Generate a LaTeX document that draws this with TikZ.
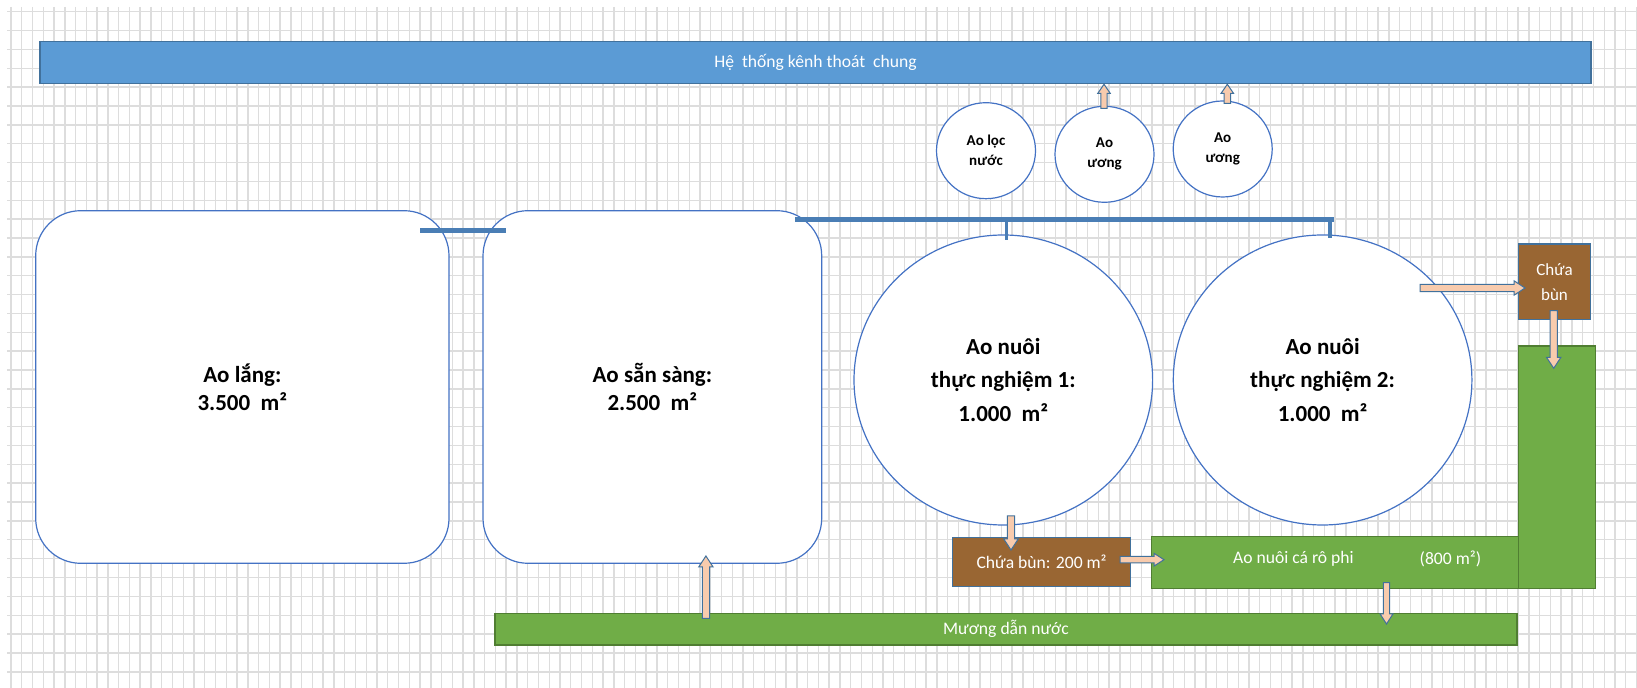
\documentclass[tikz,border=0pt]{standalone}
\usepackage{fontspec}
\setmainfont{Carlito}
\usetikzlibrary{shapes.geometric,calc}
\definecolor{gridc}{HTML}{DDDDDD}
\definecolor{barblue}{HTML}{5B9BD5}
\definecolor{steel}{HTML}{41719C}
\definecolor{pondline}{HTML}{4472C4}
\definecolor{pipec}{HTML}{4A7EB5}
\definecolor{peach}{HTML}{F8CBAD}
\definecolor{mud}{HTML}{996633}
\definecolor{grass}{HTML}{70AD47}
\definecolor{grassline}{HTML}{507E32}

\newcommand\blockarrow[5]{%
  \draw[barrow] let \p1=(#1), \p2=(#2),
    \n1={veclen(\x2-\x1,\y2-\y1)},
    \n2={(\x2-\x1)/\n1}, \n3={(\y2-\y1)/\n1}
  in ({\x1-\n3*#3},{\y1+\n2*#3})
  -- ({\x2-\n2*#5-\n3*#3},{\y2-\n3*#5+\n2*#3})
  -- ({\x2-\n2*#5-\n3*#4},{\y2-\n3*#5+\n2*#4})
  -- (\x2,\y2)
  -- ({\x2-\n2*#5+\n3*#4},{\y2-\n3*#5-\n2*#4})
  -- ({\x2-\n2*#5+\n3*#3},{\y2-\n3*#5-\n2*#3})
  -- ({\x1+\n3*#3},{\y1-\n2*#3}) -- cycle;}

\begin{document}
\begin{tikzpicture}[x=0.5pt,y=-0.5pt,
  gridl/.style={draw=gridc,line width=0.7pt},
  bluebar/.style={draw=steel,line width=0.7pt,fill=barblue,inner sep=0pt,text=white,font=\fontsize{8.8}{10.5}\selectfont},
  pond/.style={draw=pondline,line width=0.6pt,fill=white,rounded corners=22.5pt,inner sep=0pt,align=center,font=\fontsize{11.5}{14.15}\selectfont\bfseries},
  smallpond/.style={ellipse,draw=pondline,line width=0.6pt,fill=white,inner sep=0pt,minimum width=49.5pt,minimum height=48pt,align=center,font=\fontsize{7.5}{10}\selectfont\bfseries},
  bigpond/.style={ellipse,draw=pondline,line width=0.6pt,fill=white,inner sep=0pt,minimum width=149.3pt,minimum height=145pt,align=center,font=\fontsize{11.5}{16.75}\selectfont\bfseries},
  mudbox/.style={draw=steel,line width=0.6pt,fill=mud,inner sep=0pt,text=white,align=center,font=\fontsize{8.8}{12.5}\selectfont},
  greenbox/.style={draw=grassline,line width=0.7pt,fill=grass,inner sep=0pt,text=white,font=\fontsize{8.8}{10.5}\selectfont},
  wtext/.style={text=white,inner sep=0pt,font=\fontsize{8.8}{10.5}\selectfont},
  pipe/.style={draw=pipec,line width=2.2pt},
  stub/.style={draw=pipec,line width=1.7pt},
  barrow/.style={draw=steel,line width=0.5pt,fill=peach,line join=miter}
]
\useasboundingbox (0,0) rectangle (1637,688);
\fill[white] (0,0) rectangle (1637,688);
% grid
\foreach \i in {0,...,151} \draw[gridl] ({11+10.765*\i},7) -- ({11+10.765*\i},688);
\foreach \j in {0,...,35} \draw[gridl] (7,{11.7+18.86*\j}) -- (1637,{11.7+18.86*\j});

% drainage canal
\node[bluebar,minimum width=775.5pt,minimum height=20.8pt] (kenh) at (815.5,62.5) {Hệ\ \ thống kênh thoát\ \ chung};

% ponds
\node[pond,minimum width=206.65pt,minimum height=176.3pt] (lang) at (242.35,387) {Ao lắng:\\3.500\ \ m²};
\node[pond,minimum width=169.35pt,minimum height=176.3pt] (sansang) at (652.35,387) {Ao sẵn sàng:\\2.500\ \ m²};

\node[smallpond] (loc) at (986,150.7) {Ao lọc\\nước};
\node[smallpond] (uong1) at (1104.5,154.3) {Ao\\ương};
\node[smallpond] (uong2) at (1222.7,149) {Ao\\ương};

\node[bigpond] (tn1) at (1003.3,380) {Ao nuôi\\thực nghiệm 1:\\1.000\ \ m²};
\node[bigpond] (tn2) at (1322.6,380) {Ao nuôi\\thực nghiệm 2:\\1.000\ \ m²};

% mud and tilapia
\node[mudbox,minimum width=36.2pt,minimum height=37.65pt,font=\fontsize{8.5}{12.5}\selectfont] (bun2) at (1554.5,281.65) {Chứa\\bùn};
\node[greenbox,minimum width=38.7pt,minimum height=121.15pt] (xanh) at (1557,467.15) {};
\node[greenbox,minimum width=183.45pt,minimum height=25.8pt] (rophi) at (1334.85,562.5) {};
\node[wtext] (rophiA) at (1293.4,559.3) {Ao nuôi cá rô phi};
\node[wtext] (rophiB) at (1450.4,559.3) {(800 m²)};
\node[mudbox,minimum width=89.2pt,minimum height=24.7pt] (bun1) at (1041.6,562) {Chứa bùn: 200 m²};
\node[greenbox,minimum width=511pt,minimum height=15.85pt] (muong) at (1006,629.2) {Mương dẫn nước};

% pipes
\coordinate (p1) at (420,230.5); \coordinate (p2) at (506,230.5);
\draw[pipe] (p1) -- (p2);
\coordinate (q1) at (795,219.5); \coordinate (q2) at (1334,219.5);
\draw[pipe] (q1) -- (q2);
\coordinate (s1) at (1006.7,219.5); \coordinate (s1e) at (1006.7,240);
\coordinate (s2) at (1330,219.5); \coordinate (s2e) at (1330,238);
\draw[stub] (s1) -- (s1e);
\draw[stub] (s2) -- (s2e);

% block arrows
\coordinate (a1s) at (1104,108.3); \coordinate (a1e) at (1104,84.3);
\coordinate (a2s) at (1227.3,103.3); \coordinate (a2e) at (1227.3,84.3);
\coordinate (a3s) at (1011,516); \coordinate (a3e) at (1011,550);
\coordinate (a4s) at (1420,288); \coordinate (a4e) at (1525,288);
\coordinate (a5s) at (1553.7,310.7); \coordinate (a5e) at (1553.7,368.3);
\coordinate (a6s) at (1120,559.7); \coordinate (a6e) at (1164,559.7);
\coordinate (a7s) at (1386.5,582.7); \coordinate (a7e) at (1386.5,624);
\coordinate (a8s) at (705.9,618.3); \coordinate (a8e) at (705.9,556);
\blockarrow{a1s}{a1e}{1.6pt}{3.1pt}{4.5pt}
\blockarrow{a2s}{a2e}{1.6pt}{3.1pt}{4.5pt}
\blockarrow{a3s}{a3e}{1.8pt}{3.6pt}{5.5pt}
\blockarrow{a4s}{a4e}{1.8pt}{3.6pt}{5.5pt}
\blockarrow{a5s}{a5e}{1.8pt}{3.6pt}{5.5pt}
\blockarrow{a6s}{a6e}{1.6pt}{3.2pt}{5pt}
\blockarrow{a7s}{a7e}{1.6pt}{3.2pt}{5pt}
\blockarrow{a8s}{a8e}{1.8pt}{3.6pt}{5.5pt}
\end{tikzpicture}
\end{document}
